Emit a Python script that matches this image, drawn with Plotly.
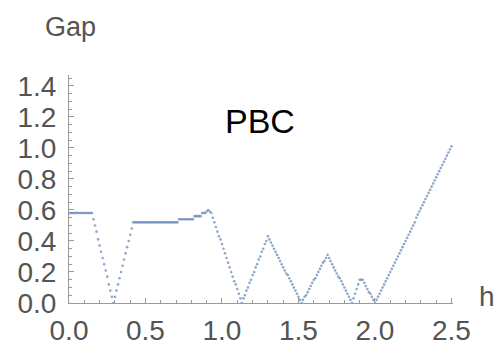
import plotly.graph_objects as go

h = [0.00, 0.01, 0.02, 0.03, 0.04, 0.05, 0.06, 0.07, 0.08, 0.09,
     0.10, 0.11, 0.12, 0.13, 0.14, 0.15, 0.16, 0.17, 0.18, 0.19,
     0.20, 0.21, 0.22, 0.23, 0.24, 0.25, 0.26, 0.27, 0.28, 0.29,
     0.30, 0.31, 0.32, 0.33, 0.34, 0.35, 0.36, 0.37, 0.38, 0.39,
     0.40, 0.41, 0.42, 0.43, 0.44, 0.45, 0.46, 0.47, 0.48, 0.49,
     0.50, 0.51, 0.52, 0.53, 0.54, 0.55, 0.56, 0.57, 0.58, 0.59,
     0.60, 0.61, 0.62, 0.63, 0.64, 0.65, 0.66, 0.67, 0.68, 0.69,
     0.70, 0.71, 0.72, 0.73, 0.74, 0.75, 0.76, 0.77, 0.78, 0.79,
     0.80, 0.81, 0.82, 0.83, 0.84, 0.85, 0.86, 0.87, 0.88, 0.89,
     0.90, 0.91, 0.92, 0.93, 0.94, 0.95, 0.96, 0.97, 0.98, 0.99,
     1.00, 1.01, 1.02, 1.03, 1.04, 1.05, 1.06, 1.07, 1.08, 1.09,
     1.10, 1.11, 1.12, 1.13, 1.14, 1.15, 1.16, 1.17, 1.18, 1.19,
     1.20, 1.21, 1.22, 1.23, 1.24, 1.25, 1.26, 1.27, 1.28, 1.29,
     1.30, 1.31, 1.32, 1.33, 1.34, 1.35, 1.36, 1.37, 1.38, 1.39,
     1.40, 1.41, 1.42, 1.43, 1.44, 1.45, 1.46, 1.47, 1.48, 1.49,
     1.50, 1.51, 1.52, 1.53, 1.54, 1.55, 1.56, 1.57, 1.58, 1.59,
     1.60, 1.61, 1.62, 1.63, 1.64, 1.65, 1.66, 1.67, 1.68, 1.69,
     1.70, 1.71, 1.72, 1.73, 1.74, 1.75, 1.76, 1.77, 1.78, 1.79,
     1.80, 1.81, 1.82, 1.83, 1.84, 1.85, 1.86, 1.87, 1.88, 1.89,
     1.90, 1.91, 1.92, 1.93, 1.94, 1.95, 1.96, 1.97, 1.98, 1.99,
     2.00, 2.01, 2.02, 2.03, 2.04, 2.05, 2.06, 2.07, 2.08, 2.09,
     2.10, 2.11, 2.12, 2.13, 2.14, 2.15, 2.16, 2.17, 2.18, 2.19,
     2.20, 2.21, 2.22, 2.23, 2.24, 2.25, 2.26, 2.27, 2.28, 2.29,
     2.30, 2.31, 2.32, 2.33, 2.34, 2.35, 2.36, 2.37, 2.38, 2.39,
     2.40, 2.41, 2.42, 2.43, 2.44, 2.45, 2.46, 2.47, 2.48, 2.49,
     2.50]

gap = [0.58, 0.58, 0.58, 0.58, 0.58, 0.58, 0.58, 0.58, 0.58, 0.58,
       0.58, 0.58, 0.58, 0.58, 0.58, 0.58, 0.54, 0.50, 0.46, 0.41,
       0.37, 0.33, 0.29, 0.25, 0.21, 0.17, 0.12, 0.08, 0.04, 0.00,
       0.04, 0.08, 0.12, 0.16, 0.20, 0.24, 0.28, 0.32, 0.36, 0.40,
       0.44, 0.48, 0.52, 0.52, 0.52, 0.52, 0.52, 0.52, 0.52, 0.52,
       0.52, 0.52, 0.52, 0.52, 0.52, 0.52, 0.52, 0.52, 0.52, 0.52,
       0.52, 0.52, 0.52, 0.52, 0.52, 0.52, 0.52, 0.52, 0.52, 0.52,
       0.52, 0.52, 0.54, 0.54, 0.54, 0.54, 0.54, 0.54, 0.54, 0.54,
       0.54, 0.54, 0.56, 0.56, 0.56, 0.56, 0.56, 0.58, 0.58, 0.58,
       0.59, 0.60, 0.59, 0.58, 0.55, 0.52, 0.49, 0.46, 0.43, 0.41,
       0.38, 0.35, 0.32, 0.29, 0.26, 0.23, 0.20, 0.17, 0.14, 0.12,
       0.09, 0.06, 0.03, 0.00, 0.03, 0.05, 0.08, 0.10, 0.13, 0.15,
       0.18, 0.20, 0.23, 0.25, 0.28, 0.30, 0.33, 0.35, 0.38, 0.40,
       0.43, 0.41, 0.39, 0.37, 0.35, 0.33, 0.31, 0.29, 0.27, 0.25,
       0.23, 0.21, 0.19, 0.18, 0.16, 0.14, 0.12, 0.10, 0.08, 0.06,
       0.04, 0.02, 0.00, 0.02, 0.04, 0.05, 0.07, 0.09, 0.11, 0.13,
       0.15, 0.16, 0.18, 0.20, 0.22, 0.24, 0.26, 0.27, 0.29, 0.31,
       0.29, 0.27, 0.25, 0.23, 0.21, 0.19, 0.17, 0.16, 0.14, 0.12,
       0.10, 0.08, 0.06, 0.04, 0.02, 0.00, 0.03, 0.06, 0.09, 0.12,
       0.15, 0.15, 0.15, 0.13, 0.11, 0.09, 0.07, 0.06, 0.04, 0.02,
       0.00, 0.02, 0.04, 0.06, 0.08, 0.10, 0.12, 0.14, 0.16, 0.18,
       0.20, 0.22, 0.24, 0.26, 0.28, 0.30, 0.32, 0.34, 0.36, 0.38,
       0.40, 0.42, 0.44, 0.46, 0.48, 0.50, 0.52, 0.55, 0.57, 0.59,
       0.61, 0.63, 0.65, 0.67, 0.69, 0.71, 0.73, 0.75, 0.77, 0.79,
       0.81, 0.83, 0.85, 0.87, 0.89, 0.91, 0.93, 0.95, 0.97, 0.99,
       1.01]

x_ticks = [0.0, 0.5, 1.0, 1.5, 2.0, 2.5]
x_tick_labels = ["0.0", "0.5", "1.0", "1.5", "2.0", "2.5"]
y_ticks = [0.0, 0.2, 0.4, 0.6, 0.8, 1.0, 1.2, 1.4]
y_tick_labels = ["0.0", "0.2", "0.4", "0.6", "0.8", "1.0", "1.2", "1.4"]

FONT = "Liberation Sans, Arial, sans-serif"
LABEL_GRAY = "#545454"
AXIS_GRAY = "#9a9a9a"

fig = go.Figure()
fig.add_trace(go.Scatter(
    x=h, y=gap, mode="markers",
    marker=dict(size=2.6, color="#5E81B5", opacity=0.7, line=dict(width=0)),
    showlegend=False, hoverinfo="skip",
))

fig.update_layout(
    width=496, height=346,
    margin=dict(l=69, r=43, t=75, b=43, autoexpand=False),
    paper_bgcolor="white", plot_bgcolor="white",
    font=dict(family=FONT, color=LABEL_GRAY),
    showlegend=False,
)

fig.update_xaxes(
    range=[0, 2.51], showgrid=False, zeroline=False, automargin=False,
    showline=True, linecolor=AXIS_GRAY, linewidth=1,
    tickmode="array", tickvals=x_ticks, ticktext=x_tick_labels,
    ticks="inside", ticklen=5, tickcolor=AXIS_GRAY, tickwidth=1,
    tickfont=dict(size=28, color=LABEL_GRAY, family=FONT),
    minor=dict(dtick=0.1, ticks="inside", ticklen=3, tickcolor=AXIS_GRAY, showgrid=False),
    ticklabelstandoff=2,
)
fig.update_yaxes(
    range=[0, 1.47], showgrid=False, zeroline=False, automargin=False,
    showline=True, linecolor=AXIS_GRAY, linewidth=1,
    tickmode="array", tickvals=y_ticks, ticktext=y_tick_labels,
    ticks="inside", ticklen=5, tickcolor=AXIS_GRAY, tickwidth=1,
    tickfont=dict(size=28, color=LABEL_GRAY, family=FONT),
    minor=dict(dtick=0.05, ticks="inside", ticklen=3, tickcolor=AXIS_GRAY, showgrid=False),
    ticklabelstandoff=6,
)

fig.add_annotation(text="Gap", xref="paper", yref="paper", x=0.003, y=1.21,
                   xanchor="center", yanchor="middle", showarrow=False,
                   font=dict(size=27, color=LABEL_GRAY, family=FONT))
fig.add_annotation(text="h", xref="paper", yref="paper", x=1.063, y=0.03,
                   xanchor="left", yanchor="middle", showarrow=False,
                   font=dict(size=28, color=LABEL_GRAY, family=FONT))
fig.add_annotation(text="PBC", xref="paper", yref="paper", x=0.497, y=0.80,
                   xanchor="center", yanchor="middle", showarrow=False,
                   font=dict(size=34, color="black", family=FONT))

fig.write_html("out.html", config={"displayModeBar": False},
               post_script="document.body.style.margin='0';")
